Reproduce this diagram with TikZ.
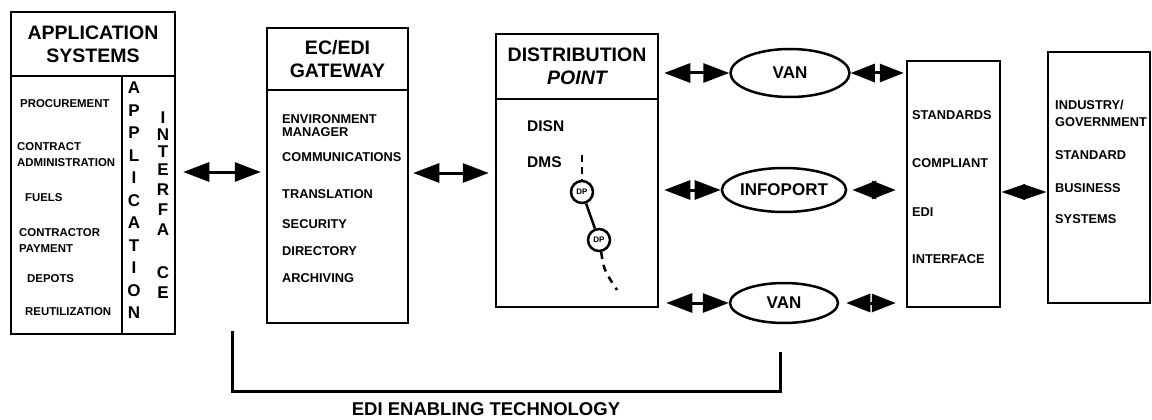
\documentclass[tikz,border=0pt]{standalone}
\usepackage{fontspec}
\setmainfont{Liberation Sans}
\usetikzlibrary{arrows.meta,shapes.geometric}

\begin{document}
\begin{tikzpicture}
		[x=1pt,y=-1pt,
		box/.style={draw,line width=2.5pt,inner sep=0pt},
		head/.style={font=\fontsize{19.5}{23}\selectfont\bfseries,align=center},
		item/.style={anchor=west,align=left,inner sep=0pt,font=\fontsize{12.8}{16}\selectfont\bfseries},
		small item/.style={item,font=\fontsize{11.4}{16}\selectfont\bfseries},
		letter/.style={inner sep=0pt,font=\fontsize{17}{17}\selectfont\bfseries},
		net/.style={shape=ellipse,draw,line width=2.5pt,inner sep=0pt,font=\fontsize{17}{20}\selectfont\bfseries},
		dp node/.style={shape=circle,draw,line width=2.5pt,fill=white,minimum size=22pt,inner sep=0pt,font=\fontsize{8}{8}\selectfont\bfseries},
		both/.style={line width=3pt,{Triangle[length=26pt,width=19pt]}-{Triangle[length=26pt,width=19pt]}},
		short both/.style={line width=3pt,{Triangle[length=24pt,width=18pt]}-{Triangle[length=24pt,width=18pt]}},
		diamond arrow/.style={line width=3pt,{Triangle[length=23.5pt,width=15pt]}-{Triangle[length=23.5pt,width=15pt]}}]
		\useasboundingbox (0,0) rectangle (1152,420);
		
		% application systems
		\node [box,head,minimum width=164pt,minimum height=64pt] (1) at (93,44) {APPLICATION\\SYSTEMS};
		\node [box,minimum width=164pt,minimum height=258pt] (1b) at (93,205) {};
		\draw [line width=2.5pt] (122,76) -- (122,334);
		\node [small item] (p1) at (20,104) {PROCUREMENT};
		\node [small item] (p2) at (17,155) {CONTRACT\\ADMINISTRATION};
		\node [small item] (p3) at (25,198) {FUELS};
		\node [small item] (p4) at (19,241) {CONTRACTOR\\PAYMENT};
		\node [small item] (p5) at (27,279) {DEPOTS};
		\node [small item] (p6) at (25,312) {REUTILIZATION};
		\foreach \l [count=\i] in {A,P,P,L,I,C,A,T,I,O,N}
			\node [letter] (a\i) at (134,{88+22.5*(\i-1)}) {\l};
		\foreach \l/\y [count=\i] in {I/118,N/135,T/152,E/170,R/190,F/210,A/230,C/273,E/293}
			\node [letter] (f\i) at (163,\y) {\l};
		
		% gateway
		\node [box,head,minimum width=141pt,minimum height=62pt] (2) at (337.5,59) {EC/EDI\\GATEWAY};
		\node [box,minimum width=141pt,minimum height=233pt] (2b) at (337.5,206.5) {};
		\node [item,font=\fontsize{12.8}{13}\selectfont\bfseries] (g1) at (282,126) {ENVIRONMENT\\MANAGER};
		\node [item] (g2) at (282,157) {COMMUNICATIONS};
		\node [item] (g3) at (282,194) {TRANSLATION};
		\node [item] (g4) at (282,224) {SECURITY};
		\node [item] (g5) at (282,251) {DIRECTORY};
		\node [item] (g6) at (282,278) {ARCHIVING};
		
		% distribution point
		\node [box,head,minimum width=162pt,minimum height=65pt] (3) at (577,66.5) {DISTRIBUTION\\\itshape POINT};
		\node [box,minimum width=162pt,minimum height=208pt] (3b) at (577,203) {};
		\node [item,font=\fontsize{15.5}{16}\selectfont\bfseries] (d1) at (527,126) {DISN};
		\node [item,font=\fontsize{15.5}{16}\selectfont\bfseries] (d2) at (527,162) {DMS};
		\node [dp node] (dp1) at (582,192) {DP};
		\node [dp node] (dp2) at (599,240) {DP};
		\coordinate (dtop) at (582,155);
		\coordinate (dend) at (617,290);
		\draw [line width=2.5pt,dash pattern=on 7pt off 5pt] (dtop) -- (dp1);
		\draw [line width=2.5pt] (dp1) -- (dp2);
		\draw [line width=2.5pt,dash pattern=on 7pt off 6pt] (dp2.-80) .. controls (604,270) .. (dend);
		
		% networks
		\node [net,minimum width=119pt,minimum height=48pt] (4) at (790,73) {VAN};
		\node [net,minimum width=112pt,minimum height=44pt] (5) at (784,190) {INFOPORT};
		\node [net,minimum width=108pt,minimum height=40pt] (6) at (784,303) {VAN};
		
		% standards compliant interface
		\node [box,minimum width=93pt,minimum height=246pt] (7) at (953.5,184) {};
		\node [item] (s1) at (912,115) {STANDARDS};
		\node [item] (s2) at (912,163) {COMPLIANT};
		\node [item] (s3) at (912,212) {EDI};
		\node [item] (s4) at (912,259) {INTERFACE};
		
		% industry / government systems
		\node [box,minimum width=102pt,minimum height=251pt] (8) at (1099,177.5) {};
		\node [item,font=\fontsize{12.8}{17}\selectfont\bfseries] (t1) at (1055,113.5) {INDUSTRY/\\GOVERNMENT};
		\node [item] (t2) at (1055,155) {STANDARD};
		\node [item] (t3) at (1055,188) {BUSINESS};
		\node [item] (t4) at (1055,219) {SYSTEMS};
		
		\path
		(1b.east |- 0,172) edge[both,shorten <=7pt,shorten >=5pt] (2b.west |- 0,172)
		(2b.east |- 0,173) edge[both,shorten <=4pt,shorten >=6pt] (3b.west |- 0,173)
		(3.east |- 4.west) edge[both,shorten <=5pt] (4.west)
		(3b.east |- 5.west) edge[both,shorten <=5pt] (5.west)
		(3b.east |- 6.west) edge[both,shorten <=7pt] (6.west)
		(4.east) edge[short both,shorten >=2pt] (7.west |- 4.east)
		(5.east) edge[short both,shorten <=5pt,shorten >=10pt] (7.west |- 5.east)
		(6.east) edge[short both,shorten <=7pt,shorten >=10pt] (7.west |- 6.east)
		(7.east |- 0,192) edge[diamond arrow] (8.west |- 0,192)
		;
		
		% enabling technology bracket
		\draw [line width=3pt] (232,331) -- (232,391) -- (780,391) -- (780,352);
		\node [head,font=\fontsize{18.5}{20}\selectfont\bfseries] (9) at (486,409) {EDI ENABLING TECHNOLOGY};
		
		\end{tikzpicture}
\end{document}
